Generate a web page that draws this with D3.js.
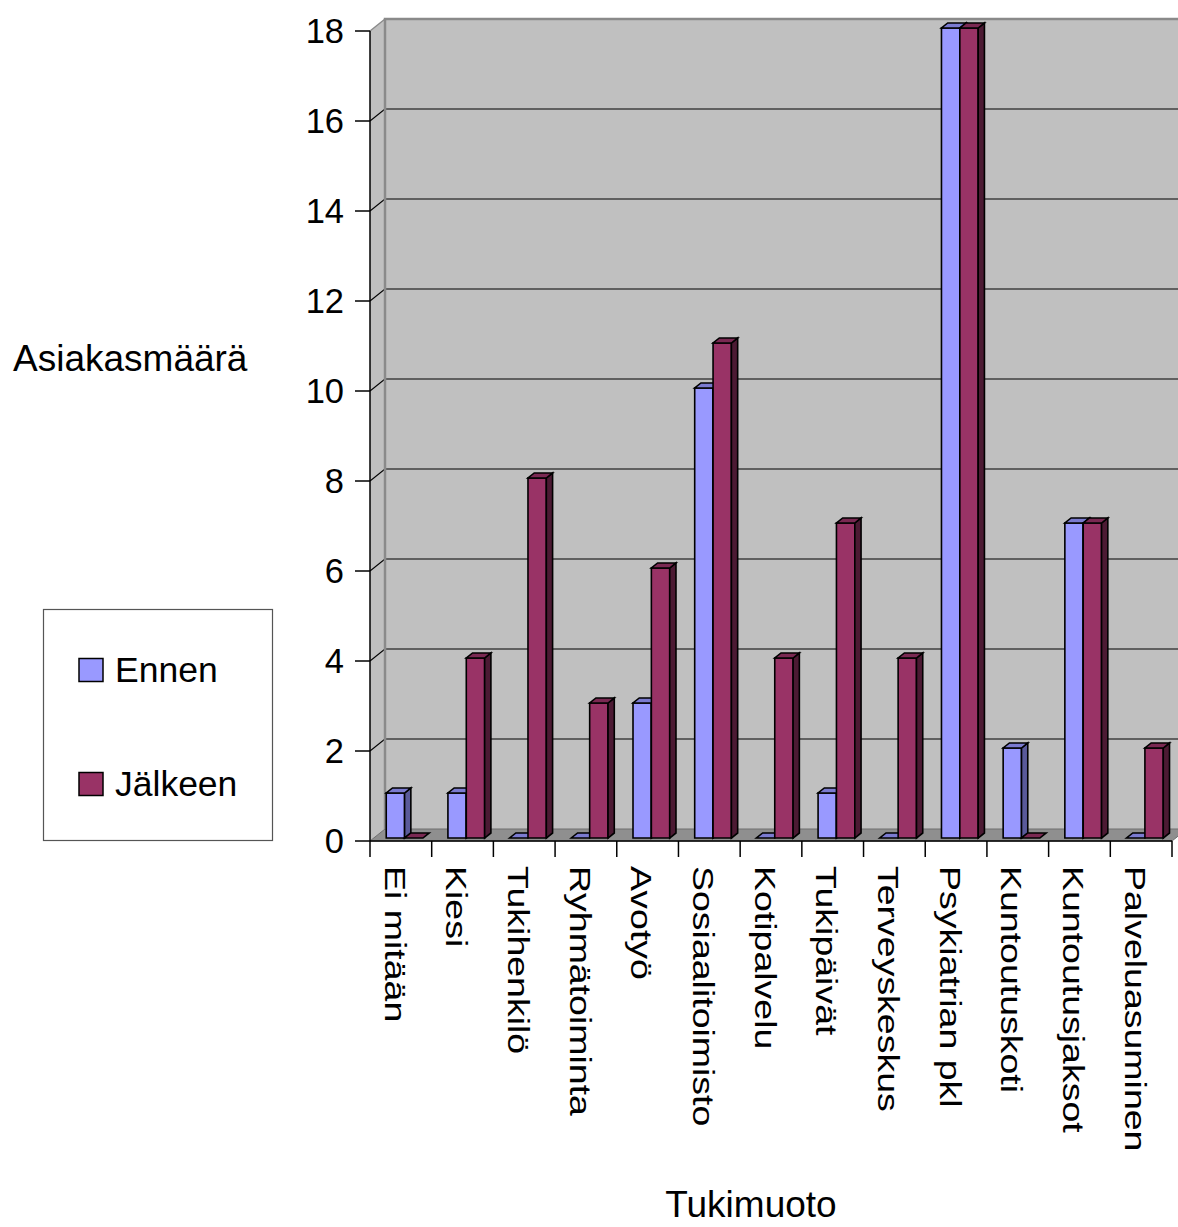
<!DOCTYPE html>
<html>
<head>
<meta charset="utf-8">
<script src="https://cdn.jsdelivr.net/npm/d3@7/dist/d3.min.js"></script>
<style>
  html, body { margin: 0; padding: 0; background: #ffffff; }
  svg { display: block; font-family: "Liberation Sans", Arial, sans-serif; }
</style>
</head>
<body>
<svg id="chart" width="1178" height="1227"></svg>
<script>
// Support forms, client counts before and after
const categories = ["Ei mitään", "Kiesi", "Tukihenkilö", "Ryhmätoiminta", "Avotyö",
  "Sosiaalitoimisto", "Kotipalvelu", "Tukipäivät", "Terveyskeskus", "Psykiatrian pkl",
  "Kuntoutuskoti", "Kuntoutusjaksot", "Palveluasuminen"];
const seriesNames = ["Ennen", "Jälkeen"];
const ennen   = [1, 1, 0, 0, 3, 10, 0, 1, 0, 18, 2, 7, 0];
const jalkeen = [0, 4, 8, 3, 6, 11, 4, 7, 4, 18, 0, 7, 2];
const yTicks = [0, 2, 4, 6, 8, 10, 12, 14, 16, 18];
const axisTitleY = "Asiakasmäärä";
const axisTitleX = "Tukimuoto";

const series = [ennen, jalkeen];

// Colour sets: front face, side face, top face
const palette = {
  "Ennen":   { front: "#9999ff", side: "#5a5a9a", top: "#7b7bd0" },
  "Jälkeen": { front: "#993366", side: "#4c1a33", top: "#7a2952" }
};

const svg = d3.select("#chart");

// Front plane scales
const x = d3.scaleBand().domain(categories).range([370, 1172]);
const y = d3.scaleLinear().domain([0, 18]).range([841, 31]);
const xs = d3.scaleBand().domain(seriesNames).range([0, x.bandwidth()]).paddingOuter(0.68);

// Depth of the chart box (screen offset of the back wall)
const DX = 15, DY = -12;
const off = t => [DX * t, DY * t];

const yMax = 18;
const xLeft = x.range()[0], xRight = x.range()[1];

// Left side wall
svg.append("polygon")
  .attr("points", [[xLeft, y(0)], [xLeft, y(yMax)], [xLeft + DX, y(yMax) + DY], [xLeft + DX, y(0) + DY]].join(" "))
  .attr("fill", "#c0c0c0");

// Back wall
svg.append("rect")
  .attr("x", xLeft + DX).attr("y", y(yMax) + DY)
  .attr("width", xRight + DX - (xLeft + DX)).attr("height", y(0) - y(yMax))
  .attr("fill", "#c0c0c0");

// Floor
svg.append("polygon")
  .attr("points", [[xLeft, y(0)], [xLeft + DX, y(0) + DY], [xRight + DX, y(0) + DY], [xRight, y(0)]].join(" "))
  .attr("fill", "#8f8f8f")
  .attr("stroke", "#6e6e6e").attr("stroke-width", 1);

// Gridlines on back wall and side wall
const grid = svg.append("g").attr("stroke", "#000").attr("stroke-width", 1.1).attr("fill", "none");
yTicks.filter(v => v > 0 && v < yMax).forEach(v => {
  grid.append("line")
    .attr("x1", xLeft + DX).attr("x2", xRight + DX)
    .attr("y1", y(v) + DY).attr("y2", y(v) + DY);
  grid.append("line")
    .attr("x1", xLeft).attr("x2", xLeft + DX)
    .attr("y1", y(v)).attr("y2", y(v) + DY);
});

// Wall edges
svg.append("path")
  .attr("d", `M${xLeft + DX},${y(0) + DY}V${y(yMax) + DY}H${xRight + DX}`)
  .attr("fill", "none").attr("stroke", "#8a8a8a").attr("stroke-width", 2.5);
svg.append("line")
  .attr("x1", xLeft).attr("y1", y(yMax)).attr("x2", xLeft + DX).attr("y2", y(yMax) + DY)
  .attr("stroke", "#8a8a8a").attr("stroke-width", 1.5);

// Bars (front at depth 0.25, back at depth 0.667)
const d0 = 0.25, d1 = 0.667;
const bars = svg.append("g").attr("stroke", "#000").attr("stroke-width", 1.6).attr("stroke-linejoin", "miter");
categories.forEach((c, i) => {
  seriesNames.forEach((s, k) => {
    const v = series[k][i];
    const col = palette[s];
    const [ox, oy] = off(d0);
    const [bx, by] = off(d1);
    const xl = x(c) + xs(s) + ox;
    const xr = xl + xs.bandwidth();
    const yb = y(0) + oy;
    const yt = y(v) + oy;
    const ddx = bx - ox, ddy = by - oy;
    const g = bars.append("g");
    if (v > 0) {
      g.append("polygon").attr("fill", col.front)
        .attr("points", [[xl, yb], [xl, yt], [xr, yt], [xr, yb]].join(" "));
      g.append("polygon").attr("fill", col.side)
        .attr("points", [[xr, yb], [xr, yt], [xr + ddx, yt + ddy], [xr + ddx, yb + ddy]].join(" "));
    }
    g.append("polygon").attr("fill", col.top)
      .attr("points", [[xl, yt], [xr, yt], [xr + ddx, yt + ddy], [xl + ddx, yt + ddy]].join(" "));
  });
});

// Y axis
const axisG = svg.append("g").attr("stroke", "#000").attr("stroke-width", 1.5);
axisG.append("line").attr("x1", xLeft).attr("x2", xLeft).attr("y1", y(yMax)).attr("y2", y(0));
yTicks.forEach(v => {
  axisG.append("line").attr("x1", xLeft - 15).attr("x2", xLeft).attr("y1", y(v)).attr("y2", y(v));
});
svg.append("g").selectAll("text").data(yTicks).join("text")
  .attr("x", 344).attr("y", v => y(v))
  .attr("text-anchor", "end").attr("dominant-baseline", "central")
  .attr("font-size", 34.5).attr("fill", "#000")
  .text(v => v);

// X axis
axisG.append("line").attr("x1", xLeft).attr("x2", xRight).attr("y1", y(0)).attr("y2", y(0));
categories.concat([null]).forEach((c, i) => {
  const xx = c === null ? xRight : x(c);
  axisG.append("line").attr("x1", xx).attr("x2", xx).attr("y1", y(0)).attr("y2", y(0) + 16);
});
svg.append("g").selectAll("text").data(categories).join("text")
  .attr("transform", c => `translate(${x(c) + 14.5},866) rotate(90) scale(1.25,1)`)
  .attr("text-anchor", "start")
  .attr("font-size", 30).attr("fill", "#000")
  .text(c => c);

// Axis titles
svg.append("text").attr("x", 13).attr("y", 371)
  .attr("font-size", 37).attr("fill", "#000").text(axisTitleY);
svg.append("text").attr("x", 751).attr("y", 1217).attr("text-anchor", "middle")
  .attr("font-size", 37).attr("fill", "#000").text(axisTitleX);

// Legend
const legend = svg.append("g");
legend.append("rect").attr("x", 43.5).attr("y", 609.5).attr("width", 229).attr("height", 231)
  .attr("fill", "#fff").attr("stroke", "#555").attr("stroke-width", 1.2);
const legY = d3.scalePoint().domain(seriesNames).range([670, 784]);
seriesNames.forEach(s => {
  legend.append("rect").attr("x", 79).attr("y", legY(s) - 11.5).attr("width", 24).attr("height", 23)
    .attr("fill", palette[s].front).attr("stroke", "#000").attr("stroke-width", 1.5);
  legend.append("text").attr("x", 115).attr("y", legY(s) + 11.5)
    .attr("font-size", 35.5).attr("fill", "#000").text(s);
});
</script>
</body>
</html>
